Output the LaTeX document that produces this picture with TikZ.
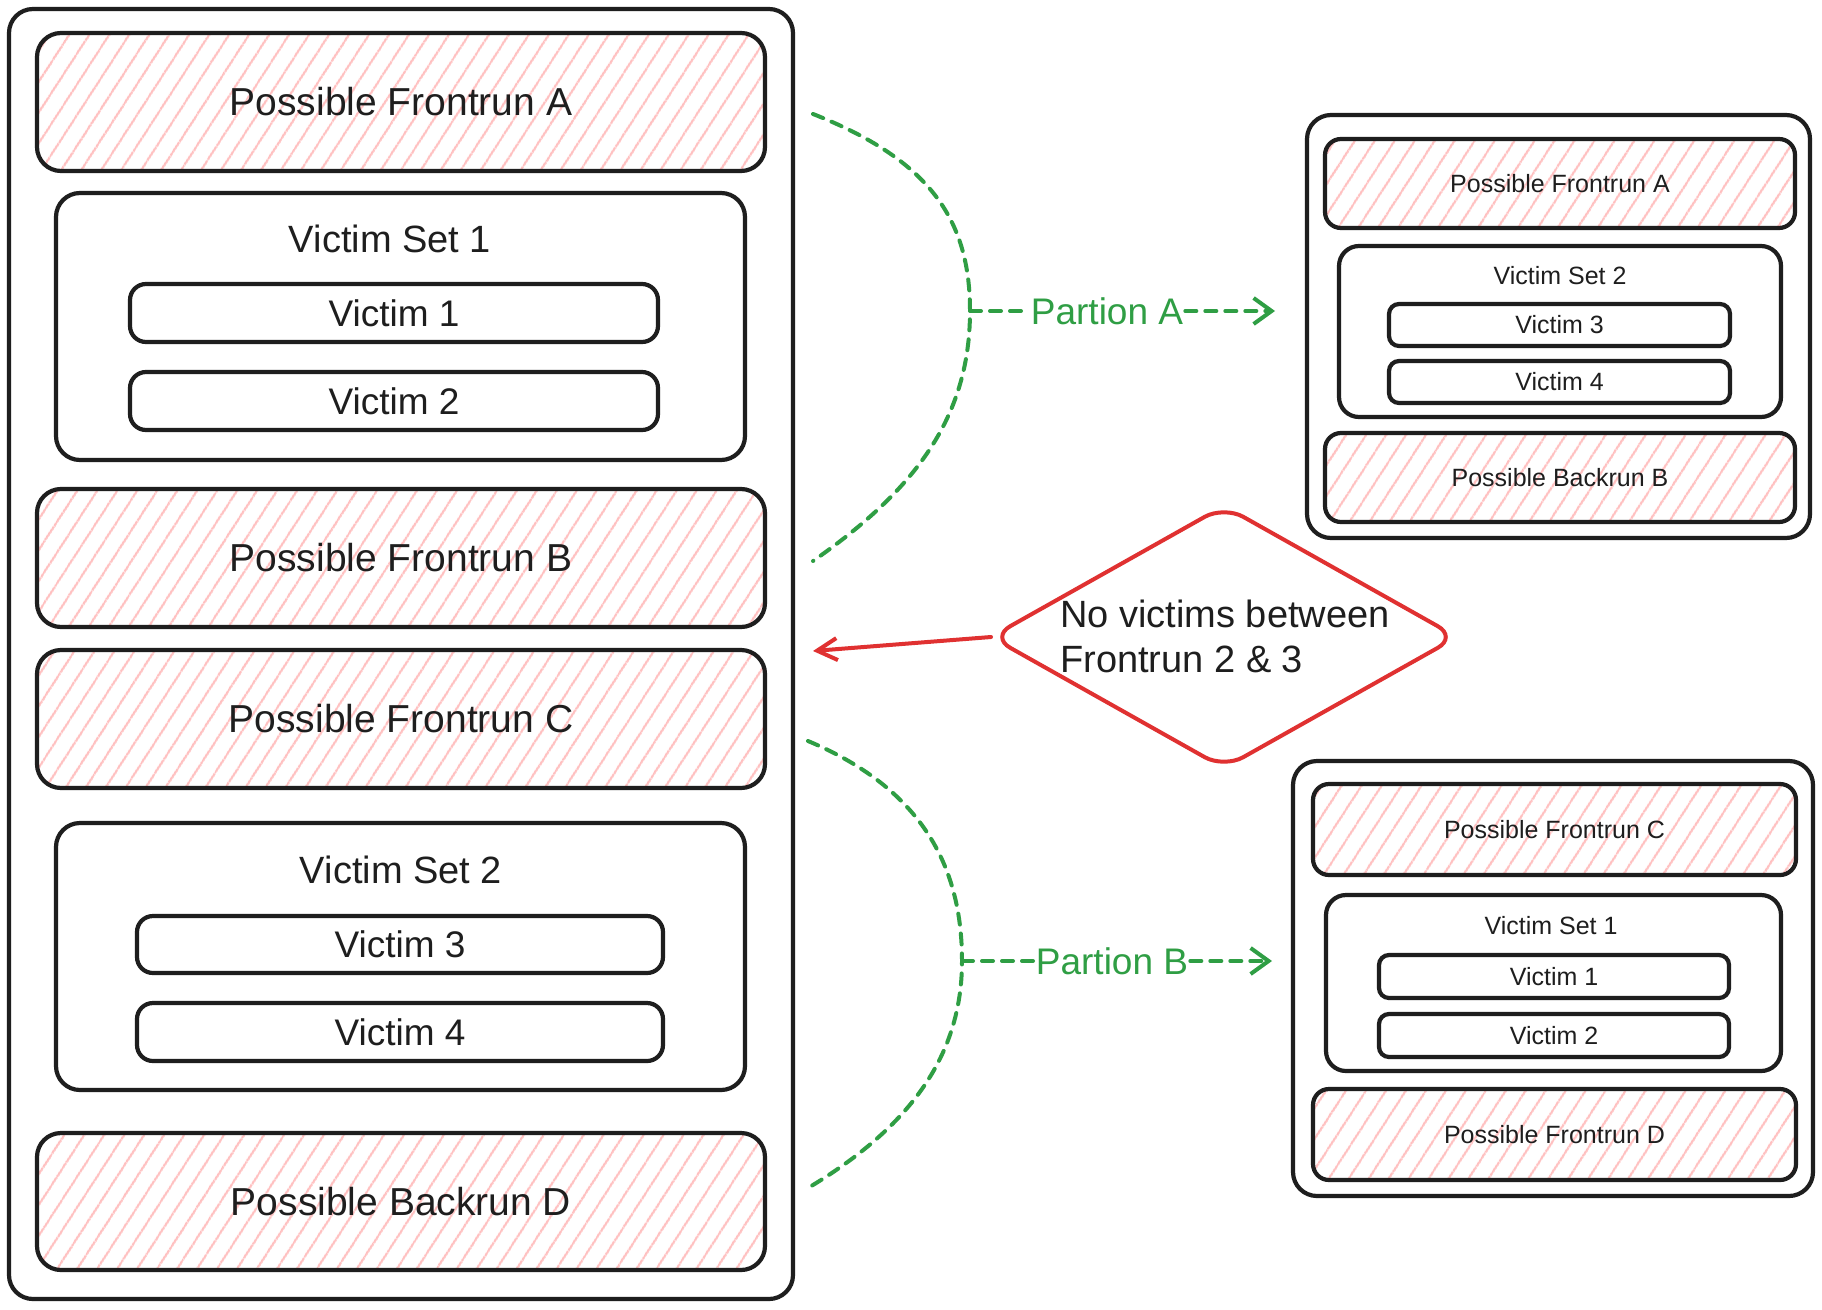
\documentclass[tikz,border=0pt]{standalone}
\usepackage{fontspec}
\setmainfont{Liberation Sans}
\usetikzlibrary{shapes.geometric,arrows.meta,patterns.meta}
\definecolor{ink}{HTML}{1E1E1E}
\definecolor{hatch}{HTML}{FFC0C0}
\definecolor{grn}{HTML}{2F9E44}
\definecolor{rd}{HTML}{E03131}
\newcommand{\bigfs}{\fontsize{39}{45}\selectfont}
\newcommand{\midfs}{\fontsize{38}{45}\selectfont}
\newcommand{\vfs}{\fontsize{37}{45}\selectfont}
\newcommand{\smfs}{\fontsize{25}{30}\selectfont}
\tikzset{
  frame/.style={draw=ink, line width=4.2pt, rounded corners=24pt, inner sep=0pt, outer sep=0pt, text=ink},
  hatched/.style={frame, pattern={Lines[angle=57,distance=17pt,line width=2.4pt]}, pattern color=hatch},
  smframe/.style={frame, rounded corners=10pt},
  smhatched/.style={hatched, rounded corners=16pt},
  lbl/.style={text=ink, inner sep=0pt},
  gdash/.style={draw=grn, line width=4pt, dash pattern=on 11pt off 9pt, line cap=round},
  gtip/.style={-{Straight Barb[length=18pt,width=26pt,line width=4pt]}},
  glabel/.style={text=grn, font=\vfs, inner sep=2pt},
}
\begin{document}
\begin{tikzpicture}[x=1pt,y=-1pt]
\fill[white] (0,0) rectangle (1822,1309);
\useasboundingbox (0,0) rectangle (1822,1309);

% ---------- left column ----------
\node[frame, minimum width=784pt, minimum height=1290pt] (outerL) at (401,654) {};
\node[hatched, minimum width=728pt, minimum height=138pt, font=\bigfs] (fa) at (401,102) {Possible Frontrun A};
\node[frame, minimum width=689pt, minimum height=267pt] (vs1) at (400.5,326.5) {};
\node[lbl, font=\midfs] (vs1t) at (390,239) {Victim Set 1};
\node[frame, rounded corners=16pt, minimum width=528pt, minimum height=58pt, font=\vfs] (v1) at (394,313) {Victim 1};
\node[frame, rounded corners=16pt, minimum width=528pt, minimum height=58pt, font=\vfs] (v2) at (394,401) {Victim 2};
\node[hatched, minimum width=728pt, minimum height=138pt, font=\bigfs] (fb) at (401,558) {Possible Frontrun B};
\node[hatched, minimum width=728pt, minimum height=138pt, font=\bigfs] (fc) at (401,719) {Possible Frontrun C};
\node[frame, minimum width=689pt, minimum height=267pt] (vs2) at (400.5,956.5) {};
\node[lbl, font=\midfs] (vs2t) at (401,870) {Victim Set 2};
\node[frame, rounded corners=16pt, minimum width=526pt, minimum height=57pt, font=\vfs] (v3) at (400,944.5) {Victim 3};
\node[frame, rounded corners=16pt, minimum width=526pt, minimum height=58pt, font=\vfs] (v4) at (400,1032) {Victim 4};
\node[hatched, minimum width=728pt, minimum height=137pt, font=\bigfs] (bd) at (401,1201.5) {Possible Backrun D};

% ---------- right top ----------
\node[frame, minimum width=503pt, minimum height=423pt] (ra) at (1558.5,326.5) {};
\node[smhatched, minimum width=470pt, minimum height=89pt, font=\smfs] (rfa) at (1560,183.5) {Possible Frontrun A};
\node[frame, rounded corners=20pt, minimum width=442pt, minimum height=171pt] (rvs2) at (1560,331.5) {};
\node[lbl, font=\smfs] (rvs2t) at (1560,276) {Victim Set 2};
\node[smframe, minimum width=341pt, minimum height=42pt, font=\smfs] (rv3) at (1559.5,325) {Victim 3};
\node[smframe, minimum width=341pt, minimum height=42pt, font=\smfs] (rv4) at (1559.5,382) {Victim 4};
\node[smhatched, minimum width=470pt, minimum height=89pt, font=\smfs] (rbb) at (1560,477.5) {Possible Backrun B};

% ---------- right bottom ----------
\node[frame, minimum width=520pt, minimum height=435pt] (rb) at (1553,978.5) {};
\node[smhatched, minimum width=483pt, minimum height=91pt, font=\smfs] (rfc) at (1554.5,829.5) {Possible Frontrun C};
\node[frame, rounded corners=20pt, minimum width=455pt, minimum height=176pt] (rvs1) at (1553.5,983) {};
\node[lbl, font=\smfs] (rvs1t) at (1551,926) {Victim Set 1};
\node[smframe, minimum width=350pt, minimum height=43pt, font=\smfs] (rv1) at (1554,976.5) {Victim 1};
\node[smframe, minimum width=350pt, minimum height=43pt, font=\smfs] (rv2) at (1554,1035.5) {Victim 2};
\node[smhatched, minimum width=483pt, minimum height=91pt, font=\smfs] (rfd) at (1554.5,1134.5) {Possible Frontrun D};

% ---------- diamond ----------
\node[diamond, draw=rd, line width=4pt, rounded corners=22pt, minimum width=466pt, minimum height=262pt, inner sep=0pt, outer sep=0pt] (dm) at (1224,637) {};
\node[lbl, font=\midfs, align=left, anchor=west] (dmt) at (1060,636) {No victims between\\Frontrun 2 \& 3};
\coordinate (rtip) at (813,651);
\draw[draw=rd, line width=4pt, line cap=round, -{Straight Barb[length=20pt,width=22pt,line width=4pt]}] (dm.west) -- (rtip);

% ---------- partition A ----------
\coordinate (a1) at (813,114);
\coordinate (am) at (970,311);
\coordinate (a2) at (813,561);
\coordinate (aend) at (1275,311);
\draw[gdash] (a1) .. controls (930,160) and (970,220) .. (am) .. controls (970,420) and (912,492) .. (a2);
\node[glabel] (pa) at (1107,311) {Partion A};
\draw[gdash] (am) -- (pa.west);
\draw[gdash, gtip] (pa.east) -- (aend);

% ---------- partition B ----------
\coordinate (b1) at (808,741);
\coordinate (bm) at (962,961);
\coordinate (b2) at (808,1188);
\coordinate (bend) at (1272,961);
\draw[gdash] (b1) .. controls (925,790) and (962,870) .. (bm) .. controls (962,1060) and (905,1130) .. (b2);
\node[glabel] (pb) at (1112,961) {Partion B};
\draw[gdash] (bm) -- (pb.west);
\draw[gdash, gtip] (pb.east) -- (bend);
\end{tikzpicture}
\end{document}
